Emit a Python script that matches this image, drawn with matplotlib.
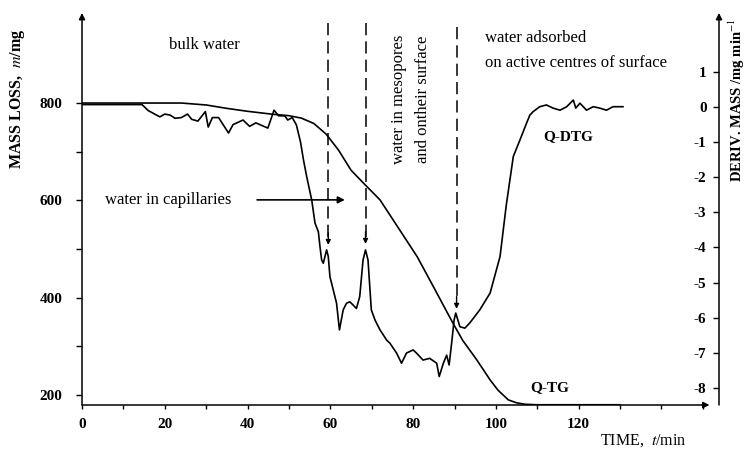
import numpy as np
import matplotlib
matplotlib.use("Agg")
import matplotlib.pyplot as plt
from matplotlib.ticker import MultipleLocator, FixedLocator

plt.rcParams['font.family'] = ['Liberation Serif', 'DejaVu Serif']
plt.rcParams['mathtext.fontset'] = 'stix'

# Q-TG curve: time (min) and mass loss (mg)
tg_time = [0, 10, 15, 24, 30, 35, 40, 46, 50, 53, 56, 59, 62, 65, 68.4, 72, 76, 81,
           85, 89.6, 92, 95.4, 98.6, 100.5, 103, 105, 107, 110, 130]
tg_mass = [800, 800, 800, 800, 796, 789, 783, 777, 774, 769, 758, 736, 703, 662, 632,
           601, 549, 484, 421, 348, 312, 272, 231, 210, 190, 184, 181, 180, 180]

# Q-DTG curve: time (min) and derivative mass (mg/min)
dtg_time = [0, 10, 14.5, 16, 18.8, 20, 21.3, 22.5, 24, 25.5, 26.5, 28, 29.8, 30.5, 31.5,
            33, 35.4, 36.5, 38.9, 40.5, 42, 44.9, 46.4, 47.5, 49, 49.7, 50.8, 51.8, 52.8,
            53.5, 54.3, 55.5, 56.3, 57.1, 57.5, 57.9, 58.3, 59.1, 59.5, 59.9, 60.7, 61.5,
            62.2, 63.1, 63.9, 64.7, 65.5, 66.3, 67.1, 67.9, 68.5, 69.1, 69.9, 70.8, 72,
            73.6, 74.4, 76, 77.2, 78.4, 80, 80.8, 82.4, 84, 85.7, 86.3, 87.3, 88.1, 88.7,
            89.3, 89.9, 90.3, 91.3, 92.5, 93.7, 96.1, 98.6, 101, 102.5, 104.2, 105.8,
            107.4, 108.2, 109, 110.6, 112.2, 113.8, 115.5, 117.1, 118.7, 119.3, 120.3,
            121.9, 123.5, 125.1, 126.7, 128.3, 130.7]
dtg_deriv = [0.07, 0.07, 0.07, -0.1, -0.28, -0.2, -0.23, -0.32, -0.3, -0.2, -0.35, -0.4,
             -0.13, -0.57, -0.3, -0.3, -0.74, -0.5, -0.37, -0.55, -0.45, -0.6, -0.09,
             -0.25, -0.25, -0.37, -0.3, -0.51, -1.0, -1.5, -1.99, -2.65, -3.31, -3.55,
             -3.98, -4.36, -4.45, -4.07, -4.26, -4.83, -5.21, -5.59, -6.35, -5.78, -5.59,
             -5.55, -5.64, -5.74, -5.40, -4.36, -4.07, -4.36, -5.78, -6.07, -6.35, -6.64,
             -6.73, -7.01, -7.30, -7.01, -6.92, -7.01, -7.21, -7.16, -7.30, -7.68, -7.30,
             -7.07, -7.35, -6.73, -6.07, -5.87, -6.26, -6.30, -6.15, -5.78, -5.30, -4.26,
             -2.8, -1.41, -0.94, -0.46, -0.23, -0.13, 0.01, 0.06, -0.03, -0.09, 0.01, 0.2,
             -0.03, 0.11, -0.09, 0.01, -0.03, -0.09, 0.01, 0.01]

# dashed markers: time, arrow tip on the DTG scale
marker_time = [59.5, 68.5, 90.5]
marker_tip = [-3.93, -3.9, -5.75]
marker_top = [2.39, 2.39, 2.28]

left_ticks = [200, 400, 600, 800]
left_minor = [300, 500, 700]
right_ticks = [1, 0, -1, -2, -3, -4, -5, -6, -7, -8]
x_ticks = [0, 20, 40, 60, 80, 100, 120]

fig = plt.figure(figsize=(7.55, 4.49), dpi=100)
ax = fig.add_axes([82 / 755, 1 - 405 / 449, (719 - 82) / 755, (405 - 13) / 449])
ax2 = ax.twinx()

ax.set_xlim(0, 153.9)
ax.set_ylim(179.5, 985)
ax2.set_ylim(-8.49, 2.68)

for a in (ax, ax2):
    for s in a.spines.values():
        s.set_visible(False)

lw = 1.2
ax.plot(tg_time, tg_mass, color='black', lw=lw)
ax2.plot(dtg_time, dtg_deriv, color='black', lw=lw)

# axes drawn as arrows
arrow_kw = dict(arrowstyle='-|>', color='black', lw=1.1, mutation_scale=9,
                shrinkA=0, shrinkB=0)
ax.annotate('', xy=(0, 1), xytext=(0, 0), xycoords='axes fraction',
            textcoords='axes fraction', arrowprops=arrow_kw)
ax.annotate('', xy=(1, 1), xytext=(1, 0), xycoords='axes fraction',
            textcoords='axes fraction', arrowprops=arrow_kw)
ax.annotate('', xy=(0.985, 0), xytext=(0, 0), xycoords='axes fraction',
            textcoords='axes fraction', arrowprops=arrow_kw)

tick_font = dict(family='Liberation Serif', weight='bold', size=11)

ax.set_xticks(x_ticks)
ax.set_xticklabels([str(v) for v in x_ticks], **tick_font)
ax.xaxis.set_minor_locator(MultipleLocator(10))
ax.tick_params(axis='x', which='both', direction='out', length=3, width=1, pad=6)

ax.set_yticks(left_ticks)
ax.set_yticklabels([str(v) for v in left_ticks], **tick_font)
ax.yaxis.set_minor_locator(FixedLocator(left_minor))
ax.tick_params(axis='y', which='both', direction='out', length=4, width=1, pad=10)

ax2.set_yticks(right_ticks)
ax2.set_yticklabels([str(v) for v in right_ticks], **tick_font)
ax2.tick_params(axis='y', direction='in', length=4, width=1, pad=-9)
plt.setp(ax2.get_yticklabels(), ha='right')

# dashed vertical arrows
for t, tip, top in zip(marker_time, marker_tip, marker_top):
    ax2.plot([t, t], [top, tip + 0.2], color='black', lw=1.1, linestyle=(0, (8, 4)))
    ax2.annotate('', xy=(t, tip), xytext=(t, tip + 0.35),
                 arrowprops=dict(arrowstyle='-|>', color='black', lw=1,
                                 mutation_scale=7, shrinkA=0, shrinkB=0))

ann = dict(family='Liberation Serif', size=12, color='black')
ax.text(29.5, 919, 'bulk water', ha='center', va='center', **ann)
ax.text(5.6, 601, 'water in capillaries', ha='left', va='center', **ann)
ax.annotate('', xy=(63.5, 601), xytext=(42.3, 601),
            arrowprops=dict(arrowstyle='-|>', color='black', lw=1.2,
                            mutation_scale=10, shrinkA=0, shrinkB=0))
ax.text(76.6, 807, 'water in mesopores', ha='center', va='center', rotation=90, **ann)
ax.text(82.4, 807, 'and ontheir surface', ha='center', va='center', rotation=90, **ann)
ax.text(97.3, 933, 'water adsorbed', ha='left', va='center', **ann)
ax.text(97.3, 882, 'on active centres of surface', ha='left', va='center', **ann)
ax.text(117.4, 730, 'Q-DTG', ha='center', va='center', family='Liberation Serif',
        weight='bold', size=11)
ax.text(113, 216, 'Q-TG', ha='center', va='center', family='Liberation Serif',
        weight='bold', size=11)

fig.text(18 / 755, 1 - 99 / 449, r'MASS LOSS,  $\mathbf{\mathit{m}}$/mg', rotation=90,
         ha='center', va='center', size=11.5, weight='bold')
fig.text(737 / 755, 1 - 100 / 449, r'DERIV. MASS /mg min$^{-1}$', rotation=90,
         ha='center', va='center', size=10.5, weight='bold')
fig.text(643 / 755, 1 - 441 / 449, r'TIME,  $\mathit{t}$/min', ha='center',
         va='center', size=11.5)

fig.savefig('out.png', dpi=100)
